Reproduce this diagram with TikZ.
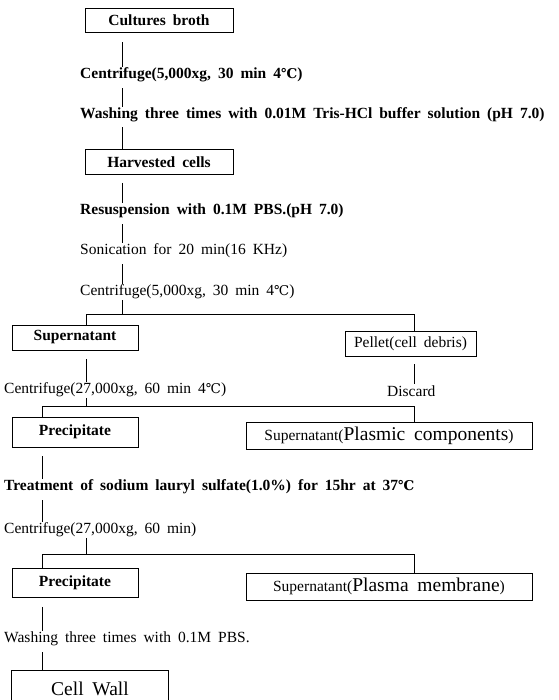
\documentclass[tikz,border=0pt]{standalone}
\usepackage{fontspec}
\setmainfont[WordSpace=1.8]{Liberation Serif}
\newfontfamily\dv{DejaVu Serif}
\newcommand{\degc}{{\dv\fontsize{13.5}{15}\selectfont ℃}}
\usetikzlibrary{calc}
\begin{document}
\begin{tikzpicture}[x=1pt,y=-1pt,
  box/.style={draw,line width=0.9pt,inner sep=0pt,font=\bfseries\fontsize{15.5}{17}\selectfont},
  boxr/.style={draw,line width=0.9pt,inner sep=0pt,font=\fontsize{15.5}{17}\selectfont},
  lbl/.style={anchor=west,inner sep=1pt,font=\bfseries\fontsize{15.5}{17}\selectfont},
  lblr/.style={anchor=west,inner sep=1pt,font=\fontsize{15.5}{17}\selectfont},
  ln/.style={line width=0.9pt}]
\useasboundingbox (0,0) rectangle (558,700);
\coordinate (tA) at (122,0);
\coordinate (xL) at (86,0);
\coordinate (xR) at (414,0);
\coordinate (xP) at (42,0);
\coordinate (j1) at (122,314);
\coordinate (j2) at (86,406);
\coordinate (j3) at (86,554);

\node[box,minimum width=148,minimum height=24] (cb) at (159,20) {Cultures broth};
\node[lbl] (c1) at (79,75) {Centrifuge(5,000xg, 30 min 4\degc)};
\node[lbl] (w1) at (79,115) {Washing three times with 0.01M Tris-HCl buffer solution (pH 7.0)};
\node[box,minimum width=148,minimum height=25] (hc) at (159,162) {Harvested cells};
\node[lbl] (rs) at (79,211) {Resuspension with 0.1M PBS.(pH 7.0)};
\node[lblr] (so) at (79,251) {Sonication for 20 min(16 KHz)};
\node[lblr] (c2) at (79,292) {Centrifuge(5,000xg, 30 min 4\degc)};
\node[box,minimum width=126,minimum height=25] (sp) at (75,337.5) {Supernatant};
\node[boxr,minimum width=131,minimum height=25] (pe) at (410.5,343.5) {Pellet(cell debris)};
\node[lblr] (c3) at (3,390) {Centrifuge(27,000xg, 60 min 4\degc)};
\node[lblr] (dc) at (386,391) {Discard};
\node[box,minimum width=126,minimum height=30] (pr1) at (75,432) {Precipitate};
\node[boxr,minimum width=286,minimum height=27] (sm1) at (389,435.5) {Supernatant({\fontsize{19.5}{21}\selectfont Plasmic components})};
\node[lbl] (tr) at (3,487) {Treatment of sodium lauryl sulfate(1.0\%) for 15hr at 37\degc};
\node[lblr] (c4) at (3,530) {Centrifuge(27,000xg, 60 min)};
\node[box,minimum width=126,minimum height=29] (pr2) at (75,583) {Precipitate};
\node[boxr,minimum width=286,minimum height=27] (sm2) at (389,586.5) {Supernatant({\fontsize{19.5}{21}\selectfont Plasma membrane})};
\node[lblr] (w2) at (3,639) {Washing three times with 0.1M PBS.};
\node[minimum width=156,minimum height=36,inner sep=0pt,font=\fontsize{19.5}{21}\selectfont] (cw) at (90,689) {Cell Wall};
\draw[ln] (cw.south west) -- (cw.north west) -- (cw.north east) -- (cw.south east);

\draw[ln] ($(cb.south -| tA)+(0,10)$) -- (c1.north -| tA);
\draw[ln] ($(c1.south -| tA)+(0,5)$) -- (w1.north -| tA);
\draw[ln] ($(w1.south -| tA)+(0,4)$) -- (hc.north -| tA);
\draw[ln] ($(hc.south -| tA)+(0,8)$) -- (rs.north -| tA);
\draw[ln] ($(rs.south -| tA)+(0,5)$) -- (so.north -| tA);
\draw[ln] ($(so.south -| tA)+(0,5)$) -- (c2.north -| tA);
\draw[ln] (c2.south -| tA) -- (j1);
\draw[ln] (sp.north -| xL) -- (j1 -| xL) -- (j1 -| xR) -- (pe.north -| xR);
\draw[ln] ($(sp.south -| xL)+(0,9)$) -- (c3.north -| xL);
\draw[ln] ($(pe.south -| xR)+(0,8)$) -- (dc.north -| xR);
\draw[ln] (c3.south -| xL) -- (j2);
\draw[ln] (pr1.north -| xP) -- (j2 -| xP) -- (j2 -| xR) -- (sm1.north -| xR);
\draw[ln] ($(pr1.south -| xP)+(0,9)$) -- (tr.north -| xP);
\draw[ln] ($(tr.south -| xP)+(0,5)$) -- (c4.north -| xP);
\draw[ln] (c4.south -| xL) -- (j3);
\draw[ln] (pr2.north -| xP) -- (j3 -| xP) -- (j3 -| xR) -- (sm2.north -| xR);
\draw[ln] ($(pr2.south -| xP)+(0,9)$) -- (w2.north -| xP);
\draw[ln] ($(w2.south -| xP)+(0,5)$) -- (cw.north -| xP);
\end{tikzpicture}
\end{document}
